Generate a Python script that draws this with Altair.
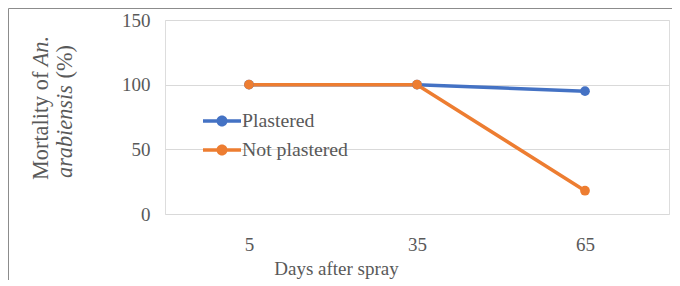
import altair as alt
import pandas as pd

days = ["5", "35", "65"]
series_names = ["Plastered", "Not plastered"]
plastered = [100, 100, 95]
not_plastered = [100, 100, 18]
y_ticks = [0, 50, 100, 150]
colors = ["#4472C4", "#ED7D31"]

rows = []
for d, v in zip(days, plastered):
    rows.append({"day": d, "value": v, "series": "Plastered"})
for d, v in zip(days, not_plastered):
    rows.append({"day": d, "value": v, "series": "Not plastered"})
df = pd.DataFrame(rows)

FONT = "Liberation Serif"
TXT = "#595959"
TFS = 22.3

sym_path = ("M-1,-0.09L1,-0.09L1,0.09L-1,0.09Z "
            "M0.29,0A0.29,0.29,0,1,1,-0.29,0A0.29,0.29,0,1,1,0.29,0Z")

base = alt.Chart(df).encode(
    x=alt.X("day:N", sort=days,
            scale=alt.Scale(type="point", padding=0.5),
            axis=alt.Axis(title="Days after spray", labelAngle=0, domain=False,
                          ticks=False, tickSize=0, grid=False,
                          labelFont=FONT, labelFontSize=19, labelColor=TXT,
                          labelPadding=30, labelBaseline="middle",
                          titleFont=FONT, titleFontSize=19, titleColor=TXT,
                          titleFontWeight="normal", titleX=171, titleY=60,
                          titleAlign="center", titleBaseline="alphabetic")),
    y=alt.Y("value:Q", scale=alt.Scale(domain=[0, 150]),
            axis=alt.Axis(values=y_ticks, title=None, domain=False, ticks=False,
                          tickSize=0, grid=True, gridColor="#D9D9D9",
                          gridWidth=1, labelFont=FONT, labelFontSize=19,
                          labelColor=TXT, labelPadding=15)),
    color=alt.Color("series:N",
                    scale=alt.Scale(domain=series_names, range=colors),
                    legend=alt.Legend(title=None, orient="none", legendX=38,
                                      legendY=82, symbolType=sym_path,
                                      symbolSize=1444, labelFont=FONT,
                                      labelFontSize=19.8, labelColor=TXT,
                                      labelOffset=1, rowPadding=0,
                                      symbolStrokeWidth=0)),
)

lines = base.mark_line(strokeWidth=3.5)
points = base.mark_point(filled=True, size=95, opacity=1)

t1 = alt.Chart(pd.DataFrame({"t": ["Mortality of "]})).mark_text(
    angle=270, align="left", baseline="alphabetic", font=FONT, fontSize=TFS,
    color=TXT).encode(text="t:N", x=alt.value(-117), y=alt.value(160))
t2 = alt.Chart(pd.DataFrame({"t": ["An."]})).mark_text(
    angle=270, align="right", baseline="alphabetic", font=FONT, fontSize=TFS,
    fontStyle="italic", color=TXT).encode(text="t:N", x=alt.value(-117), y=alt.value(16))
t3 = alt.Chart(pd.DataFrame({"t": ["arabiensis"]})).mark_text(
    angle=270, align="left", baseline="alphabetic", font=FONT, fontSize=TFS,
    fontStyle="italic", color=TXT).encode(text="t:N", x=alt.value(-93), y=alt.value(158))
t4 = alt.Chart(pd.DataFrame({"t": [" (%)"]})).mark_text(
    angle=270, align="right", baseline="alphabetic", font=FONT, fontSize=TFS,
    color=TXT).encode(text="t:N", x=alt.value(-93), y=alt.value(25))

border = alt.Chart(pd.DataFrame({"b": [0]})).mark_rect(
    fillOpacity=0, stroke="#8C8C8C", strokeWidth=1).encode(
    x=alt.value(-156.5), x2=alt.value(530), y=alt.value(-11.5), y2=alt.value(300))

chart = alt.layer(border, lines, points, t1, t2, t3, t4).properties(
    width=504, height=194,
    autosize=alt.AutoSizeParams(type="none"),
    padding={"left": 157, "top": 12, "right": 3, "bottom": 66},
).configure_view(stroke=None).configure(background="white")

chart.save("out.html", embed_options={"renderer": "svg", "actions": False})
